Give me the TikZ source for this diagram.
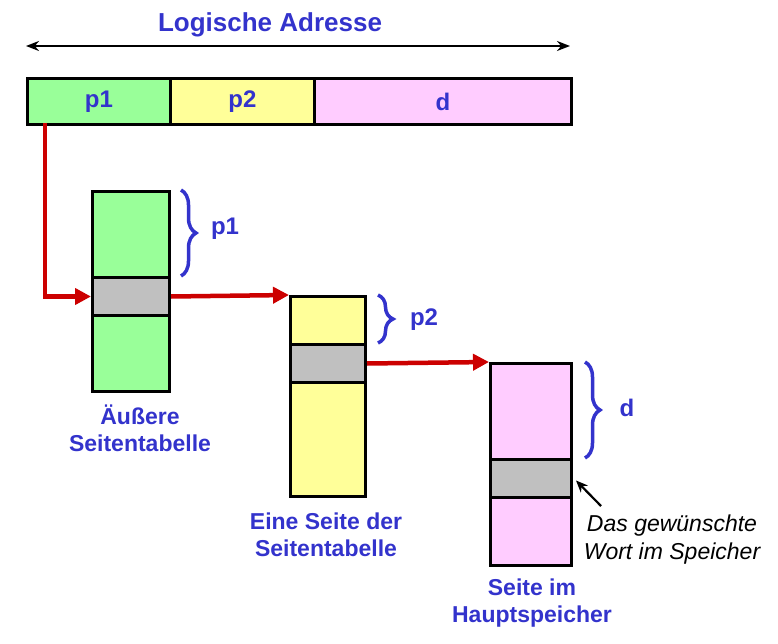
\documentclass[tikz,border=0pt]{standalone}
\usepackage{fontspec}
\setmainfont{Liberation Sans}
\usetikzlibrary{arrows.meta,decorations.pathreplacing,calc}
\definecolor{lgreen}{HTML}{99FF99}
\definecolor{lyellow}{HTML}{FFFF99}
\definecolor{lpink}{HTML}{FFCCFF}
\definecolor{lgray}{HTML}{C0C0C0}
\definecolor{tblue}{HTML}{3333CC}
\definecolor{ared}{HTML}{CC0000}
\begin{document}
\begin{tikzpicture}[x=1pt,y=-1pt,
  cell/.style={draw=black,line width=3pt,inner sep=0pt,anchor=north west,
    text=tblue,font=\bfseries\fontsize{24}{28}\selectfont},
  box/.style={draw=black,line width=3pt,inner sep=0pt,anchor=north west,minimum width=77pt},
  redarrow/.style={draw=ared,line width=4.5pt,-{Triangle[length=16pt,width=16pt]}},
  bracel/.style={draw=tblue,line width=3.5pt,decorate,decoration={brace,amplitude=15pt}},
  blbl/.style={text=tblue,font=\bfseries\fontsize{24}{28}\selectfont},
  lbl/.style={text=tblue,align=center,font=\bfseries\fontsize{23}{27}\selectfont},
]
\useasboundingbox (0,0) rectangle (778,644);
% title and double arrow
\node[text=tblue,font=\bfseries\fontsize{26}{30}\selectfont] (title) at (270,25) {Logische Adresse};
\coordinate (la) at (26,46);
\coordinate (ra) at (570,46);
\draw[line width=2.5pt,{Stealth[length=13pt,width=10pt]}-{Stealth[length=13pt,width=10pt]}] (la) -- (ra);
% address bar
\node[cell,fill=lgreen,minimum width=143pt,minimum height=46pt] (a1) at (26,77) {p1};
\node[cell,fill=lyellow,minimum width=144pt,minimum height=46pt] (a2) at (169,77) {p2};
\node[cell,fill=lpink,minimum width=257pt,minimum height=46pt] (a3) at (313,77) {d};
% boxes
\node[box,fill=lgreen,minimum height=200pt] (b1) at (91,190) {};
\node[box,fill=lgray,minimum height=38pt] (g1) at (91,276) {};
\node[box,fill=lyellow,minimum height=200pt,minimum width=75pt] (b2) at (289,295) {};
\node[box,fill=lgray,minimum height=38pt,minimum width=75pt] (g2) at (289,343) {};
\node[box,fill=lpink,minimum height=202pt,minimum width=81pt] (b3) at (489,362) {};
\node[box,fill=lgray,minimum height=38pt,minimum width=81pt] (g3) at (489,458) {};
% red arrows
\coordinate (s) at (45,123);
\draw[redarrow] (s) |- (g1.west);
\draw[redarrow] (g1.east) -- (b2.north west);
\draw[redarrow] (g2.east) -- (b3.north west);
% braces
\draw[bracel] (181,190) -- (181,276);
\node[blbl] (l1) at (225,229) {p1};
\draw[bracel] (378,295) -- (378,343);
\node[blbl] (l2) at (424,320) {p2};
\draw[bracel] (585,362) -- (585,458);
\node[blbl] (l3) at (627,408) {d};
% box labels
\node[lbl] (t1) at (140,428) {Äußere\\Seitentabelle};
\node[lbl] (t2) at (326,535) {Eine Seite der\\Seitentabelle};
\node[lbl] (t3) at (532,603) {Seite im\\Hauptspeicher};
% note
\node[align=center,font=\itshape\fontsize{23}{28}\selectfont] (note) at (672,540) {Das gewünschte\\Wort im Speicher};
\coordinate (ns) at (601,506);
\draw[line width=2.2pt,-{Stealth[length=12pt,width=10pt]}] (ns) -- ($(g3.east)+(3,2)$);
\end{tikzpicture}
\end{document}
